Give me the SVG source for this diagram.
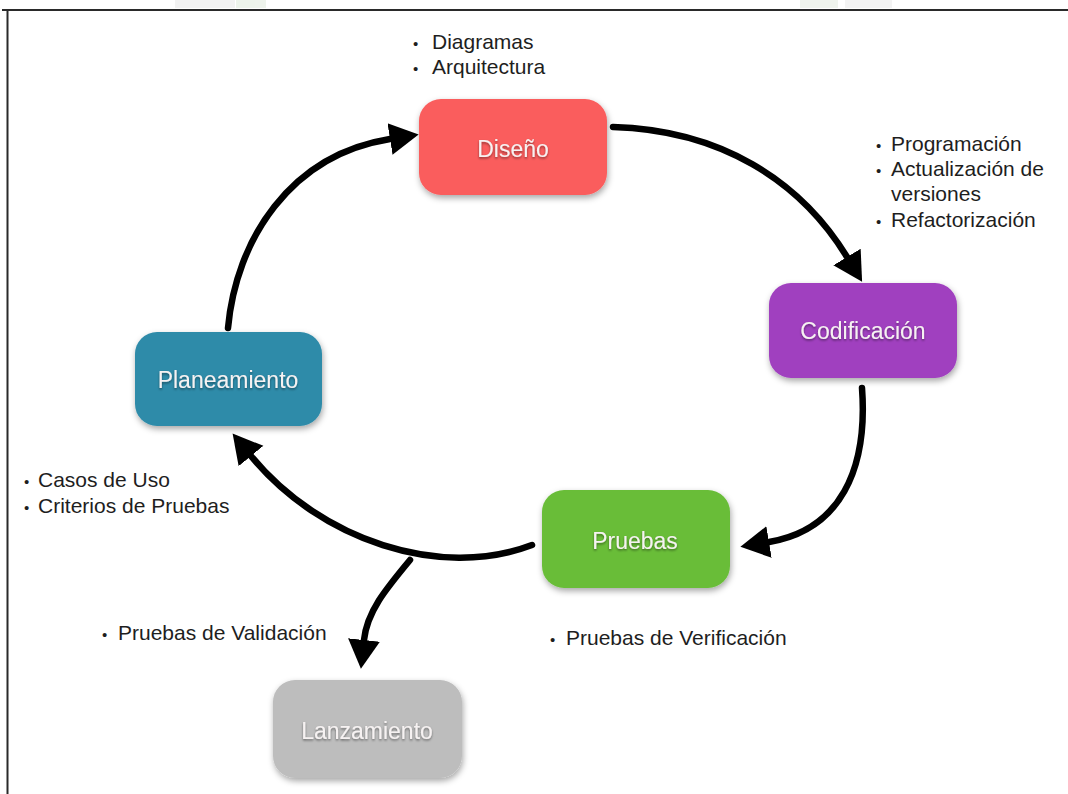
<svg xmlns="http://www.w3.org/2000/svg" width="1068" height="794" viewBox="0 0 1068 794">
  <style>
    .node-text { font-family: "Liberation Sans", Arial, sans-serif; font-size: 23px; fill: #f6f2f2; text-anchor: middle; }
    .note { font-family: "Liberation Sans", Arial, sans-serif; font-size: 21px; fill: #1e1e1e; }
    .bullet { font-size: 15px; }
    .conn { fill: none; stroke: #000; stroke-width: 6.5; stroke-linecap: round; }
  </style>
  <defs>
    <filter id="boxShadow" x="-20%" y="-20%" width="140%" height="150%">
      <feDropShadow dx="1" dy="3" stdDeviation="3" flood-color="#000" flood-opacity="0.35"/>
    </filter>
    <filter id="textShadow" x="-10%" y="-30%" width="120%" height="160%">
      <feDropShadow dx="0" dy="1.5" stdDeviation="1.2" flood-color="#000" flood-opacity="0.45"/>
    </filter>
    <marker id="head" markerUnits="userSpaceOnUse" markerWidth="32" markerHeight="34" refX="0" refY="17" orient="auto">
      <path d="M0,1 L29,17 L0,33 Z" fill="#000"/>
    </marker>
  </defs>

  <!-- page background and frame -->
  <rect width="1068" height="794" fill="#fff"/>
  <g opacity="0.45">
    <rect x="175" y="0" width="60" height="8" fill="#e3e3e3"/>
    <rect x="236" y="0" width="30" height="8" fill="#d9e5d5"/>
    <rect x="800" y="0" width="38" height="8" fill="#dce6d8"/>
    <rect x="845" y="0" width="47" height="8" fill="#e6e6e6"/>
  </g>
  <line x1="2" y1="10" x2="1068" y2="10" stroke="#2a2a2a" stroke-width="2"/>
  <line x1="7.5" y1="10" x2="7.5" y2="794" stroke="#2a2a2a" stroke-width="2"/>

  <!-- connectors -->
  <g id="connectors">
    <path class="conn" d="M228,328 C236,240 290,155 390,139" marker-end="url(#head)"/>
    <path class="conn" d="M613,127 C720,130 800,180 847,257" marker-end="url(#head)"/>
    <path class="conn" d="M862,388 C868,470 840,530 769,542" marker-end="url(#head)"/>
    <path class="conn" d="M532,545 C440,580 320,540 251,456" marker-end="url(#head)"/>
    <path class="conn" d="M410,560 C385,590 367,612 364,640" marker-end="url(#head)"/>
  </g>

  <!-- nodes -->
  <g id="diseno">
    <rect x="419" y="99" width="188" height="96" rx="22" fill="#fa5d5d" filter="url(#boxShadow)"/>
    <text class="node-text" x="513" y="157" filter="url(#textShadow)">Diseño</text>
  </g>
  <g id="codificacion">
    <rect x="769" y="283" width="188" height="95" rx="22" fill="#a040bf" filter="url(#boxShadow)"/>
    <text class="node-text" x="863" y="339" filter="url(#textShadow)">Codificación</text>
  </g>
  <g id="planeamiento">
    <rect x="135" y="332" width="187" height="94" rx="22" fill="#2f8ba9" filter="url(#boxShadow)"/>
    <text class="node-text" x="228" y="388" filter="url(#textShadow)">Planeamiento</text>
  </g>
  <g id="pruebas">
    <rect x="542" y="490" width="188" height="98" rx="22" fill="#69bd39" filter="url(#boxShadow)"/>
    <text class="node-text" x="635" y="549" filter="url(#textShadow)">Pruebas</text>
  </g>
  <g id="lanzamiento">
    <rect x="273" y="680" width="189" height="98" rx="22" fill="#bdbdbd" filter="url(#boxShadow)"/>
    <text class="node-text" x="367" y="739" filter="url(#textShadow)">Lanzamiento</text>
  </g>

  <!-- annotations -->
  <g id="notes">
    <text class="note" y="49"><tspan class="bullet" x="413">•</tspan><tspan x="432">Diagramas</tspan></text>
    <text class="note" y="74"><tspan class="bullet" x="413">•</tspan><tspan x="432">Arquitectura</tspan></text>

    <text class="note" y="151"><tspan class="bullet" x="876">•</tspan><tspan x="891">Programación</tspan></text>
    <text class="note" y="176"><tspan class="bullet" x="876">•</tspan><tspan x="891">Actualización de</tspan></text>
    <text class="note" x="891" y="201">versiones</text>
    <text class="note" y="227"><tspan class="bullet" x="876">•</tspan><tspan x="891">Refactorización</tspan></text>

    <text class="note" y="487"><tspan class="bullet" x="24">•</tspan><tspan x="38">Casos de Uso</tspan></text>
    <text class="note" y="513"><tspan class="bullet" x="24">•</tspan><tspan x="38">Criterios de Pruebas</tspan></text>

    <text class="note" y="640"><tspan class="bullet" x="102">•</tspan><tspan x="118">Pruebas de Validación</tspan></text>
    <text class="note" y="645"><tspan class="bullet" x="550">•</tspan><tspan x="566">Pruebas de Verificación</tspan></text>
  </g>
</svg>
